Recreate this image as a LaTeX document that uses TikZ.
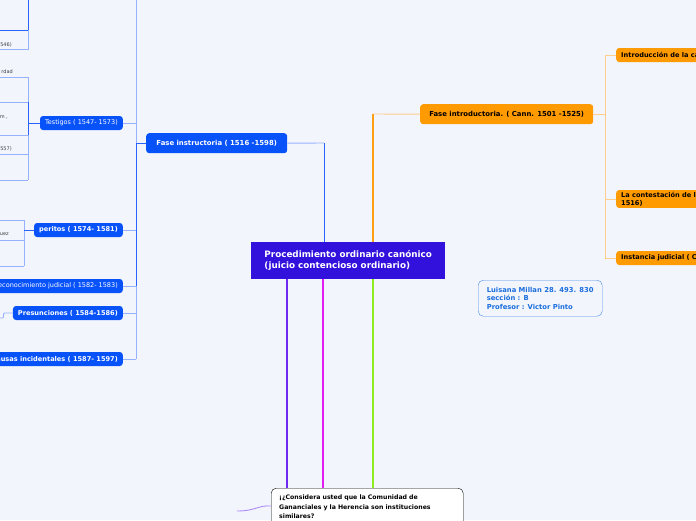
\documentclass[tikz,border=0pt]{standalone}
\usepackage{fontspec}
\setmainfont{DejaVu Sans}
\usetikzlibrary{positioning}

\definecolor{bgcol}{RGB}{243,245,253}
\definecolor{rootcol}{RGB}{51,17,221}
\definecolor{bluecol}{RGB}{8,82,250}
\definecolor{orangecol}{RGB}{255,154,0}
\definecolor{blueline}{RGB}{40,98,255}
\definecolor{bluelight}{RGB}{150,178,255}
\definecolor{orangeline}{RGB}{255,160,20}
\definecolor{orangelight}{RGB}{255,205,140}
\definecolor{purpleline}{RGB}{110,40,240}
\definecolor{magentaline}{RGB}{225,30,240}
\definecolor{greenline}{RGB}{140,238,30}
\definecolor{curvecol}{RGB}{170,140,245}
\definecolor{infocol}{RGB}{25,110,220}

\begin{document}
\begin{tikzpicture}[
  x=1pt, y=-1pt,
  font=\fontsize{6.5}{7.8}\selectfont,
  rootbox/.style={fill=rootcol, text=white, align=left, inner sep=0pt,
    minimum width=194pt, minimum height=37pt,
    font=\fontsize{8.8}{11}\selectfont\bfseries},
  bigblue/.style={fill=bluecol, text=white, rounded corners=3pt, inner sep=0pt,
    minimum height=20pt, font=\fontsize{6.9}{8.2}\selectfont\bfseries},
  bigorange/.style={fill=orangecol, text=black, rounded corners=3pt, inner sep=0pt,
    minimum height=20pt, font=\fontsize{6.9}{8.2}\selectfont\bfseries},
  subblue/.style={fill=bluecol, text=white, rounded corners=3pt, inner xsep=5pt,
    inner ysep=0pt, minimum height=14pt},
  boldsub/.style={font=\fontsize{6.6}{7.8}\selectfont\bfseries},
  suborange/.style={fill=orangecol, text=black, rounded corners=3pt, inner xsep=5pt,
    inner ysep=2pt, minimum height=14pt, align=left,
    font=\fontsize{6.6}{7.8}\selectfont\bfseries},
  frag/.style={text=black!75, inner sep=0pt, font=\fontsize{5}{6}\selectfont},
  infobox/.style={draw=infocol!80, fill=bgcol, text=infocol, rounded corners=5pt,
    align=left, inner sep=0pt, minimum width=124pt, minimum height=36pt,
    font=\fontsize{6.8}{8.6}\selectfont\bfseries},
  askbox/.style={draw=black, fill=white, rounded corners=5pt, align=left,
    text width=176pt, inner xsep=8pt, inner ysep=7pt,
    font=\fontsize{6.2}{9.5}\selectfont\bfseries},
  bl/.style={draw=bluelight, line width=0.9pt},
  bd/.style={draw=blueline, line width=1pt},
  ol/.style={draw=orangelight, line width=0.9pt},
  od/.style={draw=orangeline, line width=1.2pt}
]
  \useasboundingbox (0,0) rectangle (696,520);
  \clip (0,0) rectangle (696,520);
  \fill[bgcol] (0,0) rectangle (696,520);

  % main topics
  \node[rootbox, anchor=north west] (root) at (251,242)
    {Procedimiento ordinario canónico\\(juicio contencioso ordinario)};
  \node[bigblue, minimum width=141pt, anchor=north west] (instr) at (146,133)
    {Fase instructoria ( 1516 -1598)};
  \node[bigorange, minimum width=173pt, anchor=north west] (intro) at (420,104)
    {Fase introductoria. ( Cann. 1501 -1525)};
  \node[askbox, anchor=north west] (ask) at (271,488)
    {¡¿Considera usted que la Comunidad de\\Gananciales y la Herencia son instituciones\\similares?};
  \node[infobox, anchor=north west] (author) at (478,280)
    {Luisana Millan 28. 493. 830\\sección : B\\Profesor : Victor Pinto};

  % blue branch
  \node[subblue, anchor=east] (testigos) at (123,123) {Testigos ( 1547- 1573)};
  \node[subblue, boldsub, anchor=east] (peritos) at (123,230) {peritos ( 1574- 1581)};
  \node[subblue, anchor=east] (reconoc) at (123,286) {Reconocimiento judicial ( 1582- 1583)};
  \node[subblue, boldsub, anchor=east] (presunc) at (123,313) {Presunciones ( 1584-1586)};
  \node[subblue, boldsub, anchor=east] (causas) at (123,359) {Causas incidentales ( 1587- 1597)};

  % orange branch
  \node[suborange, anchor=west] (causa) at (616,55) {Introducción de la causa};
  \node[suborange, anchor=west] (contest) at (616,199)
    {La contestación de la litis ( Cann. 1513-\\1516)};
  \node[suborange, anchor=west] (instancia) at (616,258) {Instancia judicial ( Cann. 1526)};

  % cut-off texts on the left edge
  \node[frag, anchor=base east] (f1) at (12,46) {546)};
  \node[frag, anchor=base east] (f2) at (13,73) {rdad};
  \node[frag, anchor=base east] (f3) at (8,118) {m ,};
  \node[frag, anchor=base east] (f4) at (12,150) {557)};
  \node[frag, anchor=base east] (f5) at (9,235) {uez};

  % joints
  \coordinate (jblue) at (324,143);
  \coordinate (rblue) at (324,242);
  \coordinate (jorange) at (373,114);
  \coordinate (rorange) at (373,242);
  \coordinate (lt) at (136,-5);
  \coordinate (lb) at (136,359);
  \coordinate (rt) at (605,55);
  \coordinate (rb) at (605,258);
  \coordinate (tt) at (28,-5);
  \coordinate (t1) at (28,49);
  \coordinate (t2) at (28,77);
  \coordinate (t3) at (28,180);
  \coordinate (p1) at (24,220);
  \coordinate (p2) at (24,266);

  % root connectors
  \draw[bl] (instr.east) -- (jblue);
  \draw[bd] (jblue) -- (rblue);
  \draw[ol] (intro.west) -- (jorange);
  \draw[od] (jorange) -- (rorange);
  \draw[purpleline, line width=1.2pt] (root.south -| 287,0) -- (ask.north -| 287,0);
  \draw[magentaline, line width=1.2pt] (root.south -| 323,0) -- (ask.north -| 323,0);
  \draw[greenline, line width=1.2pt] (root.south -| 373,0) -- (ask.north -| 373,0);
  \draw[curvecol, line width=0.9pt] (ask.west |- 0,506) .. controls (258,505) and (256,511) .. (237,511);

  % blue tree
  \draw[bl] (lt) -- (instr.west -| lt);
  \draw[bd] (instr.west -| lt) -- (reconoc.east -| lt);
  \draw[bl] (reconoc.east -| lt) -- (lb);
  \draw[bd] (instr.west) -- (instr.west -| lt);
  \draw[bl] (testigos.east) -- (testigos.east -| lt);
  \draw[bl] (peritos.east) -- (peritos.east -| lt);
  \draw[bl] (reconoc.east) -- (reconoc.east -| lt);
  \draw[bl] (presunc.east) -- (presunc.east -| lt);
  \draw[bl] (causas.east) -- (causas.east -| lt);

  % orange tree
  \draw[ol] (rt) -- (rb);
  \draw[ol] (intro.east) -- (intro.east -| rt);
  \draw[ol] (causa.west) -- (rt);
  \draw[ol] (contest.west) -- (contest.west -| rt);
  \draw[ol] (instancia.west) -- (rb);

  % left sub-branches
  \draw[bd] (tt) -- (28,30) -- (0,30);
  \draw[bl] (28,30) -- (t1) -- (0,49);
  \draw[bl] (t2) -- (28,102);
  \draw[bd] (28,102) -- (28,135);
  \draw[bl] (28,135) -- (t3);
  \draw[bd] (testigos.west) -- (testigos.west -| t2);
  \draw[bl] (0,77) -- (t2);
  \draw[bl] (0,102) -- (28,102);
  \draw[bl] (0,135) -- (28,135);
  \draw[bl] (0,154) -- (28,154);
  \draw[bl] (0,180) -- (t3);
  \draw[bl] (p1) -- (p2);
  \draw[bd] (peritos.west) -- (peritos.west -| p1);
  \draw[bl] (0,220) -- (p1);
  \draw[bl] (0,240) -- (24,240);
  \draw[bl] (0,266) -- (p2);
  \draw[bl, rounded corners=1pt] (presunc.west) -- (3.5,313) -- (3.5,318) -- (0,318);
\end{tikzpicture}
\end{document}
